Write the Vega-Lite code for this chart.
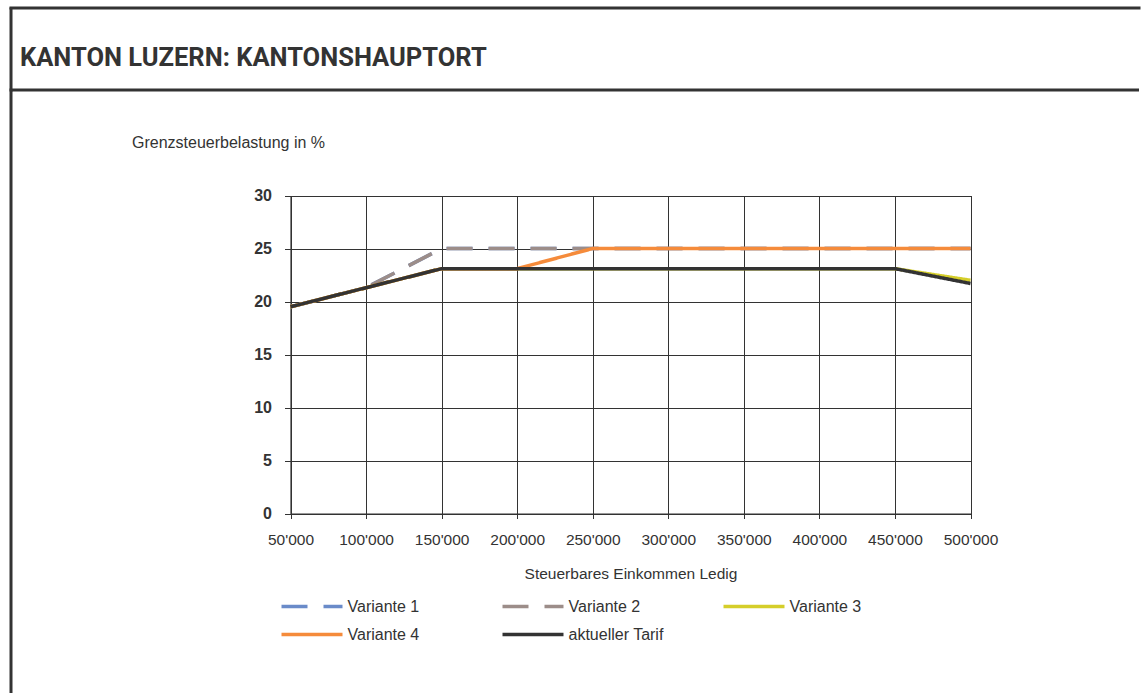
{
  "$schema": "https://vega.github.io/schema/vega-lite/v6.json",
  "padding": {"left": 9, "top": 6, "right": 0, "bottom": 0},
  "background": "white",
  "spacing": 0,
  "bounds": "flush",
  "config": {"font": "Liberation Sans"},
  "title": {
    "text": "KANTON LUZERN: KANTONSHAUPTORT",
    "anchor": "start",
    "frame": "group",
    "orient": "top",
    "offset": -85,
    "dx": 9,
    "baseline": "alphabetic",
    "font": "Roboto",
    "fontWeight": "bold",
    "fontSize": 25.5,
    "color": "#333333"
  },
  "vconcat": [
    {
      "width": 1128,
      "height": 0.01,
      "view": {"stroke": "#333333", "strokeWidth": 3, "fill": null},
      "data": {"values": []},
      "mark": {"type": "text"},
      "encoding": {"text": {"field": "t", "type": "nominal"}}
    },
    {
      "width": 0.01,
      "height": 81,
      "view": {"stroke": "#333333", "strokeWidth": 3, "fill": null},
      "data": {"values": []},
      "mark": {"type": "text"},
      "encoding": {"text": {"field": "t", "type": "nominal"}}
    },
    {
      "width": 1128,
      "height": 529,
      "view": {"stroke": "#333333", "strokeWidth": 3, "strokeDash": [1128, 1657, 529], "fill": null},
      "data": {
        "values": [
          {"series": "Variante 1", "income": 50000, "rate": 19.5},
          {"series": "Variante 1", "income": 100000, "rate": 21.3},
          {"series": "Variante 1", "income": 150000, "rate": 25},
          {"series": "Variante 1", "income": 200000, "rate": 25},
          {"series": "Variante 1", "income": 250000, "rate": 25},
          {"series": "Variante 1", "income": 300000, "rate": 25},
          {"series": "Variante 1", "income": 350000, "rate": 25},
          {"series": "Variante 1", "income": 400000, "rate": 25},
          {"series": "Variante 1", "income": 450000, "rate": 25},
          {"series": "Variante 1", "income": 500000, "rate": 25},
          {"series": "Variante 2", "income": 50000, "rate": 19.5},
          {"series": "Variante 2", "income": 100000, "rate": 21.3},
          {"series": "Variante 2", "income": 150000, "rate": 25},
          {"series": "Variante 2", "income": 200000, "rate": 25},
          {"series": "Variante 2", "income": 250000, "rate": 25},
          {"series": "Variante 2", "income": 300000, "rate": 25},
          {"series": "Variante 2", "income": 350000, "rate": 25},
          {"series": "Variante 2", "income": 400000, "rate": 25},
          {"series": "Variante 2", "income": 450000, "rate": 25},
          {"series": "Variante 2", "income": 500000, "rate": 25},
          {"series": "Variante 3", "income": 50000, "rate": 19.5},
          {"series": "Variante 3", "income": 100000, "rate": 21.3},
          {"series": "Variante 3", "income": 150000, "rate": 23.1},
          {"series": "Variante 3", "income": 200000, "rate": 23.1},
          {"series": "Variante 3", "income": 250000, "rate": 23.1},
          {"series": "Variante 3", "income": 300000, "rate": 23.1},
          {"series": "Variante 3", "income": 350000, "rate": 23.1},
          {"series": "Variante 3", "income": 400000, "rate": 23.1},
          {"series": "Variante 3", "income": 450000, "rate": 23.1},
          {"series": "Variante 3", "income": 500000, "rate": 22.0},
          {"series": "Variante 4", "income": 50000, "rate": 19.5},
          {"series": "Variante 4", "income": 100000, "rate": 21.3},
          {"series": "Variante 4", "income": 150000, "rate": 23.1},
          {"series": "Variante 4", "income": 200000, "rate": 23.1},
          {"series": "Variante 4", "income": 250000, "rate": 25},
          {"series": "Variante 4", "income": 300000, "rate": 25},
          {"series": "Variante 4", "income": 350000, "rate": 25},
          {"series": "Variante 4", "income": 400000, "rate": 25},
          {"series": "Variante 4", "income": 450000, "rate": 25},
          {"series": "Variante 4", "income": 500000, "rate": 25},
          {"series": "aktueller Tarif", "income": 50000, "rate": 19.5},
          {"series": "aktueller Tarif", "income": 100000, "rate": 21.3},
          {"series": "aktueller Tarif", "income": 150000, "rate": 23.1},
          {"series": "aktueller Tarif", "income": 200000, "rate": 23.1},
          {"series": "aktueller Tarif", "income": 250000, "rate": 23.1},
          {"series": "aktueller Tarif", "income": 300000, "rate": 23.1},
          {"series": "aktueller Tarif", "income": 350000, "rate": 23.1},
          {"series": "aktueller Tarif", "income": 400000, "rate": 23.1},
          {"series": "aktueller Tarif", "income": 450000, "rate": 23.1},
          {"series": "aktueller Tarif", "income": 500000, "rate": 21.7}
        ]
      },
      "mark": {"type": "line", "strokeWidth": 3.5, "clip": false},
      "encoding": {
        "x": {
          "field": "income",
          "type": "quantitative",
          "scale": {"domain": [50000, 500000], "range": [279.5, 959.5], "nice": false, "zero": false},
          "axis": {
            "values": [50000, 100000, 150000, 200000, 250000, 300000, 350000, 400000, 450000, 500000],
            "labelExpr": "replace(format(datum.value, ','), ',', \"'\")",
            "offset": -105.5,
            "grid": true,
            "gridColor": "#333333",
            "gridWidth": 1,
            "gridOpacity": 1,
            "domainColor": "#333333",
            "domainWidth": 1.2,
            "tickColor": "#333333",
            "tickSize": 5,
            "labelFlush": false,
            "labelOverlap": false,
            "labelPadding": 14,
            "labelFontSize": 15.5,
            "labelColor": "#333333",
            "title": "Steuerbares Einkommen Ledig",
            "titleFontSize": 15.5,
            "titleFontWeight": "normal",
            "titleColor": "#333333",
            "titleBaseline": "alphabetic",
            "titleY": 65
          }
        },
        "y": {
          "field": "rate",
          "type": "quantitative",
          "scale": {"domain": [0, 30], "range": [423.5, 105.5], "nice": false},
          "axis": {
            "values": [0, 5, 10, 15, 20, 25, 30],
            "offset": -279.5,
            "grid": true,
            "gridColor": "#333333",
            "gridWidth": 1,
            "gridOpacity": 1,
            "domainColor": "#333333",
            "domainWidth": 1.2,
            "tickColor": "#333333",
            "tickSize": 6,
            "labelFlush": false,
            "labelOverlap": false,
            "labelPadding": 13,
            "labelFontSize": 16,
            "labelFontWeight": "bold",
            "labelColor": "#333333",
            "title": "Grenzsteuerbelastung in %",
            "titleAngle": 0,
            "titleAlign": "left",
            "titleBaseline": "alphabetic",
            "titleX": -159,
            "titleY": 57.5,
            "titleFontSize": 16,
            "titleFontWeight": "normal",
            "titleColor": "#333333"
          }
        },
        "color": {
          "field": "series",
          "type": "nominal",
          "scale": {
            "domain": ["Variante 1", "Variante 2", "Variante 3", "Variante 4", "aktueller Tarif"],
            "range": ["#6A8BC9", "#9C8D89", "#D5CE2A", "#F58B3B", "#333333"]
          },
          "legend": {
            "title": null,
            "orient": "none",
            "legendX": 268.5,
            "legendY": 590.5,
            "direction": "horizontal",
            "columns": 3,
            "gridAlign": "all",
            "columnPadding": 57,
            "rowPadding": 12,
            "padding": 0,
            "symbolType": "stroke",
            "symbolSize": 3721,
            "symbolStrokeWidth": 3.5,
            "clipHeight": 16,
            "labelFontSize": 16,
            "labelColor": "#333333",
            "labelOffset": 3,
            "labelLimit": 250
          }
        },
        "strokeDash": {
          "field": "series",
          "type": "nominal",
          "scale": {
            "domain": ["Variante 1", "Variante 2", "Variante 3", "Variante 4", "aktueller Tarif"],
            "range": [[26, 16], [26, 16], [1, 0], [1, 0], [1, 0]]
          },
          "legend": {
            "title": null,
            "orient": "none",
            "legendX": 268.5,
            "legendY": 590.5,
            "direction": "horizontal",
            "columns": 3,
            "gridAlign": "all",
            "columnPadding": 57,
            "rowPadding": 12,
            "padding": 0,
            "symbolType": "stroke",
            "symbolSize": 3721,
            "symbolStrokeWidth": 3.5,
            "clipHeight": 16,
            "labelFontSize": 16,
            "labelColor": "#333333",
            "labelOffset": 3,
            "labelLimit": 250
          }
        }
      }
    },
    {
      "width": 1128,
      "height": 74,
      "view": {"stroke": "#333333", "strokeWidth": 3, "strokeDash": [0, 2330, 74], "fill": null},
      "data": {"values": []},
      "mark": {"type": "text"},
      "encoding": {"text": {"field": "t", "type": "nominal"}}
    }
  ]
}
